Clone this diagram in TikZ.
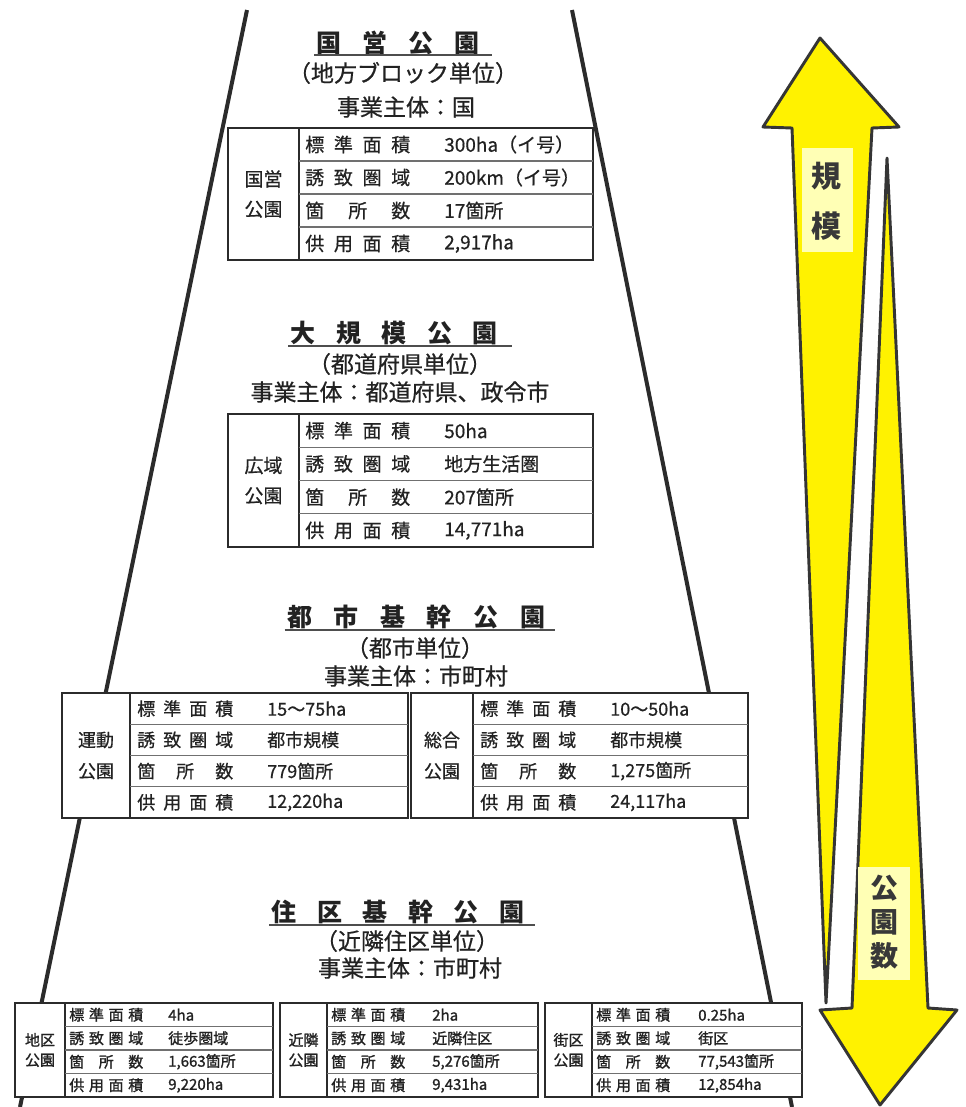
\documentclass[tikz,border=0pt]{standalone}
\usepackage{fontspec}
\setmainfont{Noto Sans CJK JP}
\newfontfamily\medfont{Noto Sans CJK JP}[FakeBold=0.6]
\newfontfamily\heavyfont{Noto Sans CJK JP}[FakeBold=1.2]
\usetikzlibrary{calc}
\definecolor{ink}{HTML}{222222}
\definecolor{edge}{HTML}{2B2B2B}
\definecolor{rowc}{HTML}{707070}
\definecolor{ylw}{HTML}{FFF200}
\definecolor{paleY}{HTML}{FFFFB5}
\definecolor{arrEdge}{HTML}{353535}
\newlength\rlw
\newcommand\tfont{}
\newcommand\lpad{6}
\newcommand\rowlab[1]{\makebox[\rlw][s]{\ifcase#1\relax\or 標\hfil 準\hfil 面\hfil 積\or 誘\hfil 致\hfil 圏\hfil 域\or 箇\hfil 所\hfil 数\or 供\hfil 用\hfil 面\hfil 積\fi}}
\newcommand\ptab[9]{%
  \draw[tbox] (#2,#3) rectangle (#4,#5);
  \draw[tdiv] (#6,#3) -- (#6,#5);
  \pgfmathsetmacro\rh{(#5-#3)/4}
  \foreach \k in {1,2,3}{\draw[trow] (#6,{#3+\k*\rh}) -- (#4,{#3+\k*\rh});}
  \node[tlab] (#1-n) at ({(#2+#6)/2},{(#3+#5)/2}) {#8};
  \foreach \v [count=\k] in {#9}{%
    \node[tcell,anchor=west] (#1-k\k) at ({#6+\lpad},{#3+(\k-0.5)*\rh}) {\rowlab{\k}};
    \node[tcell,anchor=west] (#1-v\k) at (#7,{#3+(\k-0.5)*\rh}) {\v};
  }
}
\begin{document}
\begin{tikzpicture}[x=0.75pt,y=-0.75pt,
  tbox/.style={draw=edge,line width=1.6pt,fill=white},
  tdiv/.style={draw=edge,line width=1.4pt},
  trow/.style={draw=rowc,line width=1.1pt},
  tcell/.style={font=\tfont,text=ink,inner sep=0pt},
  tlab/.style={font=\tfont,text=ink,inner sep=0pt,align=center},
  ttl/.style={font=\bfseries\fontsize{18.75pt}{22pt}\selectfont,text=ink,inner sep=0pt},
  subt/.style={font=\medfont\fontsize{17.25pt}{20pt}\selectfont,text=ink,inner sep=0pt},
  uline/.style={draw=rowc!70!black,line width=1.5pt},
  side/.style={draw=edge,line width=3pt},
  arr/.style={draw=arrEdge,line width=2.2pt,fill=ylw,line join=round},
  pale/.style={fill=paleY},
  alab/.style={font=\bfseries\fontsize{22.5pt}{26pt}\selectfont,text=ink!90,inner sep=0pt},
  blab/.style={font=\bfseries\fontsize{21pt}{24pt}\selectfont,text=ink!90,inner sep=0pt}]
\useasboundingbox[fill=white] (0,0) rectangle (966,1107);

% side lines of the trapezoid
\coordinate (L1) at (247,10); \coordinate (L2) at (20,1107);
\coordinate (R1) at (572,10); \coordinate (R2) at (792,1107);
\draw[side] (L1) -- (L2);
\draw[side] (R1) -- (R2);

% level 1
\node[ttl] (t1) at (398,43) {\makebox[122.25pt][s]{国\hfil 営\hfil 公\hfil 園}};
\draw[uline] ($(t1.west)+(-2,12)$) -- ($(t1.east)+(12,12)$);
\node[subt] (s1) at (403,73) {（地方ブロック単位）};
\node[subt] (e1) at (406,107) {事業主体：国};
\renewcommand\tfont{\medfont\fontsize{14.25pt}{22.5pt}\selectfont}\setlength\rlw{78.75pt}\renewcommand\lpad{6}
\ptab{g}{228}{128}{593}{260}{299}{444}{国営\\公園}{{300ha（イ号）},{200km（イ号）},{17箇所},{2,917ha}}

% level 2
\node[ttl] (t2) at (394,333) {\makebox[155.25pt][s]{大\hfil 規\hfil 模\hfil 公\hfil 園}};
\draw[uline] ($(t2.west)+(-2,13)$) -- ($(t2.east)+(14,13)$);
\node[subt] (s2) at (400,364) {（都道府県単位）};
\node[subt] (e2) at (400,392) {事業主体：都道府県、政令市};
\ptab{k}{228}{414}{593}{547}{299}{444}{広域\\公園}{{50ha},{地方生活圏},{207箇所},{14,771ha}}

% level 3
\node[ttl] (t3) at (416,617) {\makebox[193.5pt][s]{都\hfil 市\hfil 基\hfil 幹\hfil 公\hfil 園}};
\draw[uline] ($(t3.west)+(-2,13)$) -- ($(t3.east)+(10,13)$);
\node[subt] (s3) at (415,648) {（都市単位）};
\node[subt] (e3) at (416,676) {事業主体：市町村};
\renewcommand\tfont{\medfont\fontsize{13.5pt}{23.25pt}\selectfont}\setlength\rlw{72pt}\renewcommand\lpad{7}
\ptab{u}{62}{693}{408}{818}{130}{267}{運動\\公園}{{15～75ha},{都市規模},{779箇所},{12,220ha}}
\ptab{s}{411}{693}{748}{818}{473}{610}{総合\\公園}{{10～50ha},{都市規模},{1,275箇所},{24,117ha}}

% level 4
\node[ttl] (t4) at (398,912) {\makebox[189.75pt][s]{住\hfil 区\hfil 基\hfil 幹\hfil 公\hfil 園}};
\draw[uline] ($(t4.west)+(-2,13)$) -- ($(t4.east)+(10,13)$);
\node[subt] (s4) at (407,941) {（近隣住区単位）};
\node[subt] (e4) at (410,968) {事業主体：市町村};
\renewcommand\tfont{\heavyfont\fontsize{11.25pt}{15pt}\selectfont}\setlength\rlw{55.5pt}\renewcommand\lpad{4}
\ptab{c}{15}{1003}{273}{1097}{65}{168}{地区\\公園}{{4ha},{徒歩圏域},{1,663箇所},{9,220ha}}
\ptab{n}{280}{1003}{538}{1097}{327}{432}{近隣\\公園}{{2ha},{近隣住区},{5,276箇所},{9,431ha}}
\ptab{b}{545}{1003}{802}{1097}{592}{698}{街区\\公園}{{0.25ha},{街区},{77,543箇所},{12,854ha}}

% arrows
\draw[arr] (820,38) -- (899,127) -- (872,128) -- (826,1003) -- (792,128) -- (763,127) -- cycle;
\fill[pale] (802,148) rectangle (853,252);
\node[alab] (a1) at (826,176) {規};
\node[alab] (a2) at (826,226) {模};
\draw[arr] (887,158) -- (928,1008) -- (957,1010) -- (880,1105) -- (820,1010) -- (852,1008) -- cycle;
\fill[pale] (858,867) rectangle (910,980);
\node[blab] (b1) at (884,888) {公};
\node[blab] (b2) at (884,922) {園};
\node[blab] (b3) at (884,956) {数};
\end{tikzpicture}
\end{document}
